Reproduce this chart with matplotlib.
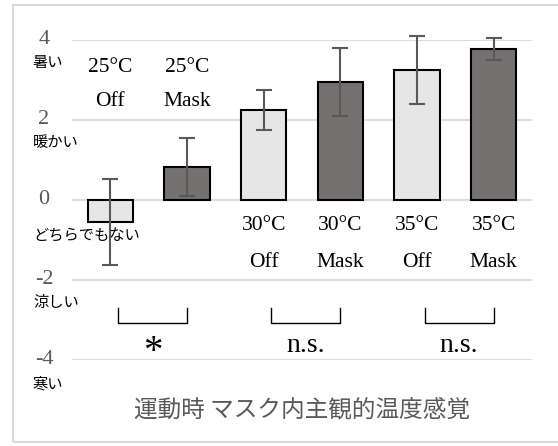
import numpy as np
import matplotlib.pyplot as plt
from matplotlib.patches import Rectangle

# DATA
temps = ['25°C', '25°C', '30°C', '30°C', '35°C', '35°C']
conds = ['Off', 'Mask', 'Off', 'Mask', 'Off', 'Mask']
means = [-0.55, 0.83, 2.25, 2.95, 3.25, 3.78]
errs = [1.08, 0.73, 0.5, 0.85, 0.85, 0.27]
yticks = [4, 2, 0, -2, -4]
ylabels_jp = ['暑い', '暖かい', 'どちらでもない', '涼しい', '寒い']
ylabels_jp_pos = [3.43, 1.43, -0.9, -2.55, -4.6]
pairs = [(0, 1), (2, 3), (4, 5)]
signif = ['*', 'n.s.', 'n.s.']
title = '運動時 マスク内主観的温度感覚'

serif = ['Liberation Serif', 'Noto Sans CJK JP']
jp = ['Noto Sans CJK JP', 'DejaVu Sans']
colors = ['#e7e6e6', '#767171'] * 3

fig = plt.figure(figsize=(5.58, 4.46), dpi=100)
fig.patches.append(Rectangle((13 / 558, 0.01), 0.99, 0.978, transform=fig.transFigure,
                             fill=False, edgecolor='#d9d9d9', linewidth=1.5))
ax = fig.add_axes([72 / 558, 86 / 446, 460 / 558, 320 / 446])

x = np.arange(len(means))
ax.bar(x, means, width=0.59, color=colors, edgecolor='black', linewidth=1.5, zorder=2)
ax.errorbar(x, means, yerr=errs, fmt='none', ecolor='#595959', elinewidth=1.5,
            capsize=6, capthick=1.5, zorder=3, clip_on=False)

ax.set_xlim(-0.5, 5.5)
ax.set_ylim(-4, 4)
ax.set_xticks([])
ax.set_yticks(yticks)
ax.set_yticklabels([])
ax.tick_params(left=False)
ax.grid(axis='y', color='#d9d9d9', linewidth=1.3, zorder=0)
for s in ax.spines.values():
    s.set_visible(False)

for v in yticks:
    ax.text(-0.865, v, str(v), ha='center', va='center', fontsize=16,
            color='#595959', family=serif)
for lab, v in zip(ylabels_jp, ylabels_jp_pos):
    ax.text(-1.01, v, lab, ha='left', va='center', fontsize=11, color='black', family=jp)

for i in x:
    if i < 2:
        y1, y2 = 3.2, 2.35
    else:
        y1, y2 = -0.75, -1.68
    ax.text(i, y1, temps[i], ha='center', va='baseline', fontsize=15.5, family=serif)
    ax.text(i, y2, conds[i], ha='center', va='baseline', fontsize=15.5, family=serif)

for (a, b), s in zip(pairs, signif):
    xa, xb = a + 0.1, b
    ax.plot([xa, xa, xb, xb], [-2.7, -3.07, -3.07, -2.7], color='black', linewidth=1)
    if s == '*':
        ax.text((xa + xb) / 2, -4.05, s, ha='center', va='baseline', fontsize=28, family=serif)
    else:
        ax.text((xa + xb) / 2, -3.8, s, ha='center', va='baseline', fontsize=20, family=serif)

ax.text(0.5, -0.16, title, transform=ax.transAxes, ha='center', va='center',
        fontsize=17, color='#595959', family=jp)

fig.savefig('out.png', dpi=100)
